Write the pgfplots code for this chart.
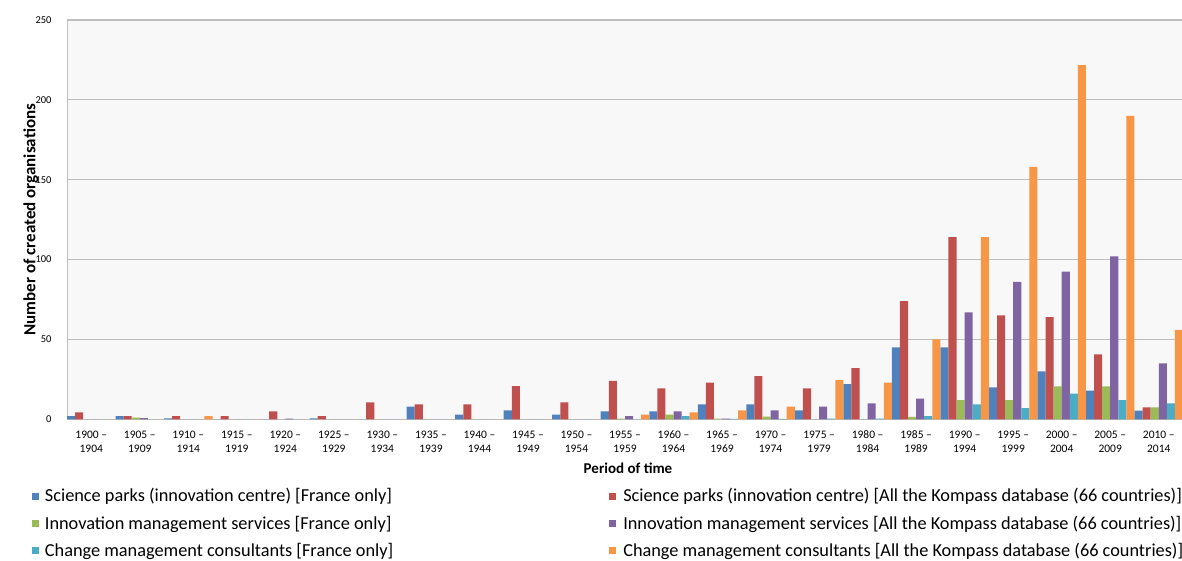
\documentclass[border=0pt]{standalone}
\usepackage{fontspec}
\setmainfont{Carlito}
\usepackage{pgfplots}
\pgfplotsset{compat=1.18}
\definecolor{cBlue}{HTML}{4F81BD}
\definecolor{cRed}{HTML}{C0504D}
\definecolor{cGreen}{HTML}{9BBB59}
\definecolor{cPurple}{HTML}{8064A2}
\definecolor{cCyan}{HTML}{4BACC6}
\definecolor{cOrange}{HTML}{F79646}
\definecolor{cGrid}{RGB}{190,190,190}
\definecolor{cBg}{RGB}{248,248,248}
\begin{document}
\begin{tikzpicture}[x=1pt,y=1pt]
\path[use as bounding box] (0,0) rectangle (1182,560);
\begin{axis}[
  at={(67pt,140.7pt)}, anchor=south west,
  width=1116pt, height=399.3pt, scale only axis,
  xmin=-0.5, xmax=22.5, ymin=0, ymax=250,
  ybar=0pt, bar width=0.16667,
  axis x line*=bottom, axis y line*=left,
  axis line style={draw=cGrid, line width=1pt},
  axis background/.style={fill=cBg},
  ymajorgrids, grid style={draw=cGrid, line width=1.1pt},
  major tick length=0pt,
  ytick={0,50,...,250},
  xtick={0,...,22},
  xticklabels={{1900 –\\1904},{1905 –\\1909},{1910 –\\1914},{1915 –\\1919},{1920 –\\1924},{1925 –\\1929},{1930 –\\1934},{1935 –\\1939},{1940 –\\1944},{1945 –\\1949},{1950 –\\1954},{1955 –\\1959},{1960 –\\1964},{1965 –\\1969},{1970 –\\1974},{1975 –\\1979},{1980 –\\1984},{1985 –\\1989},{1990 –\\1994},{1995 –\\1999},{2000 –\\2004},{2005 –\\2009},{2010 –\\2014}},
  /pgf/number format/assume math mode=true,
  xticklabel style={align=center, font=\fontsize{11.5}{14}\selectfont, yshift=-8pt},
  yticklabel style={font=\fontsize{10.5}{11}\selectfont, xshift=-12pt},
  xlabel={\textbf{Period of time}},
  xlabel style={at={(axis description cs:0.5027,-0.122)}, anchor=center, font=\fontsize{15}{17}\selectfont},
  ylabel={\textbf{Number of created organisations}},
  ylabel style={at={(axis description cs:-0.0323,0.5)}, anchor=center, font=\fontsize{17}{19}\selectfont},
  legend columns=2, legend cell align=left,
  legend image code/.code={\fill[#1] (0pt,-3.5pt) rectangle (7pt,3.5pt);},
  legend style={at={(axis description cs:-0.0343,-0.163)}, anchor=north west,
    draw=none, fill=none, font=\fontsize{18.3}{20}\selectfont, row sep=8.5pt,
    /tikz/every even column/.append style={column sep=214pt}},
]
\addplot[fill=cBlue, draw=none] coordinates {(0,2) (1,2) (2,0.6) (3,0) (4,0) (5,0.6) (6,0) (7,8) (8,3) (9,5.6) (10,3) (11,5) (12,5) (13,9.4) (14,9.4) (15,5.6) (16,22) (17,45) (18,45) (19,20) (20,30) (21,18) (22,5.4)};
\addlegendentry{\hspace{4pt}Science parks (innovation centre) [France only]}
\addplot[fill=cRed, draw=none] coordinates {(0,4.4) (1,2) (2,2) (3,2) (4,5) (5,2) (6,10.6) (7,9.4) (8,9.4) (9,20.8) (10,10.6) (11,24) (12,19.4) (13,23) (14,27) (15,19.4) (16,32) (17,74) (18,114) (19,65) (20,64) (21,40.6) (22,7.5)};
\addlegendentry{\hspace{5pt}Science parks (innovation centre) [All the Kompass database (66 countries)]}
\addplot[fill=cGreen, draw=none] coordinates {(0,0) (1,1) (2,0) (3,0) (4,0) (5,0) (6,0) (7,0) (8,0) (9,0) (10,0) (11,0.5) (12,3) (13,0.5) (14,1.7) (15,0) (16,0) (17,1.5) (18,12) (19,12) (20,20.6) (21,20.6) (22,7.5)};
\addlegendentry{\hspace{4pt}Innovation management services [France only]}
\addplot[fill=cPurple, draw=none] coordinates {(0,0) (1,0.7) (2,0) (3,0) (4,0.5) (5,0) (6,0) (7,0) (8,0) (9,0) (10,0) (11,2) (12,5) (13,0.5) (14,5.6) (15,8) (16,10) (17,13) (18,67) (19,86) (20,92.5) (21,102) (22,35)};
\addlegendentry{\hspace{5pt}Innovation management services [All the Kompass database (66 countries)]}
\addplot[fill=cCyan, draw=none] coordinates {(0,0) (1,0) (2,0) (3,0) (4,0) (5,0) (6,0) (7,0) (8,0) (9,0) (10,0) (11,0) (12,2) (13,0.3) (14,0.3) (15,0.5) (16,0.5) (17,2) (18,9.4) (19,7) (20,16) (21,12) (22,10)};
\addlegendentry{\hspace{4pt}Change management consultants [France only]}
\addplot[fill=cOrange, draw=none] coordinates {(0,0) (1,0) (2,2) (3,0) (4,0) (5,0) (6,0) (7,0) (8,0) (9,0) (10,0) (11,3) (12,4.4) (13,5.6) (14,8) (15,24.5) (16,23) (17,50) (18,114) (19,158) (20,221.7) (21,190) (22,56)};
\addlegendentry{\hspace{5pt}Change management consultants [All the Kompass database (66 countries)]}
\end{axis}
\end{tikzpicture}
\end{document}
